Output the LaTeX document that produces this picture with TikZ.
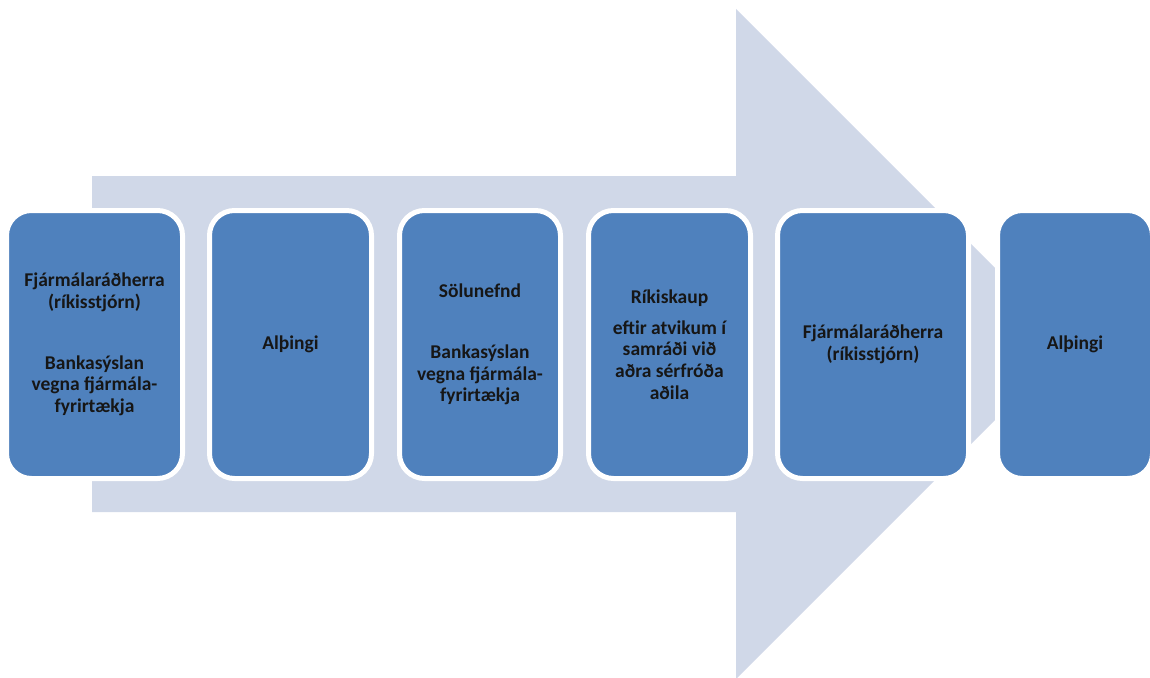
\documentclass[tikz,border=0pt]{standalone}
\usepackage{fontspec}
\setmainfont{Carlito}
\definecolor{arrowfill}{HTML}{D0D8E8}
\definecolor{boxblue}{HTML}{4F81BD}
\definecolor{txt}{HTML}{161616}
\begin{document}
\begin{tikzpicture}[x=1pt,y=-1pt,
  stepbox/.style={rectangle, rounded corners=25pt, fill=boxblue, draw=white,
    line width=5pt, minimum height=268pt, inner sep=0pt, align=center,
    text=txt, font=\fontsize{19.5}{21.7}\selectfont\bfseries}]
\useasboundingbox (0,0) rectangle (1150,677);
\clip (0,0) rectangle (1150,677);
\fill[arrowfill] (92,176) -- (736,176) -- (736,9) -- (1071,344) -- (736,679) -- (736,512) -- (92,512) -- cycle;
\node[stepbox, minimum width=176pt] (b1) at (94.5,344.5) {Fjármálaráðherra\\(ríkisstjórn)\\[39pt]Bankasýslan\\vegna fjármála-\\fyrirtækja};
\node[stepbox, minimum width=162pt] (b2) at (290.5,344.5) {Alþingi};
\node[stepbox, minimum width=161pt] (b3) at (480,344.5) {Sölunefnd\\[39pt]Bankasýslan\\vegna fjármála-\\fyrirtækja};
\node[stepbox, minimum width=162pt] (b4) at (669.5,344.5) {Ríkiskaup\\[9pt]eftir atvikum í\\samráði við\\aðra sérfróða\\aðila};
\node[stepbox, minimum width=191pt] (b5) at (873,344.5) {Fjármálaráðherra\\(ríkisstjórn)};
\node[stepbox, minimum width=155pt] (b6) at (1075,344.5) {Alþingi};
\end{tikzpicture}
\end{document}
